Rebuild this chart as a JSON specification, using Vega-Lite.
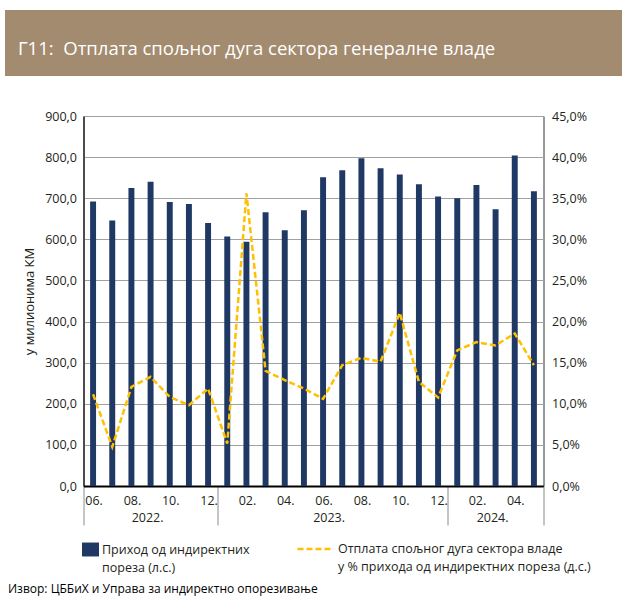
{
  "$schema": "https://vega.github.io/schema/vega-lite/v6.json",
  "padding": {"left": 5, "top": 10, "right": 5, "bottom": 0},
  "background": "white",
  "bounds": "flush",
  "center": true,
  "spacing": 40,
  "config": {
    "font": "Open Sans",
    "locale": {"number": {"decimal": ",", "thousands": ".", "grouping": [3], "currency": ["", ""]}},
    "axis": {"labelFont": "Open Sans", "labelFontSize": 12.5, "labelColor": "#231f20", "titleFont": "Open Sans", "titleFontWeight": "normal", "titleColor": "#231f20", "titleFontSize": 13},
    "legend": {"labelFont": "Open Sans", "labelFontSize": 12.5, "labelColor": "#231f20"},
    "title": {"font": "Open Sans", "fontWeight": "normal"}
  },
  "vconcat": [
    {
      "width": 617,
      "height": 66,
      "view": {"stroke": null},
      "data": {"values": [{"k": 1}]},
      "mark": {"type": "rect", "color": "#A38B6F"},
      "encoding": {},
      "title": {"text": "Г11:\u00a0 Отплата спољног дуга сектора генералне владе", "orient": "top", "anchor": "start", "frame": "group", "offset": -63, "dx": 13, "color": "white", "fontSize": 18.5, "baseline": "alphabetic", "zindex": 1}
    },
    {
      "width": 460,
      "height": 370,
      "view": {"stroke": "#333333", "strokeWidth": 1},
      "data": {"values": [
        {"m": "2022-06", "v": 692, "p": 0.1116},
        {"m": "2022-07", "v": 646, "p": 0.0475},
        {"m": "2022-08", "v": 725, "p": 0.1205},
        {"m": "2022-09", "v": 740, "p": 0.1327},
        {"m": "2022-10", "v": 691, "p": 0.1084},
        {"m": "2022-11", "v": 686, "p": 0.0982},
        {"m": "2022-12", "v": 640, "p": 0.1185},
        {"m": "2023-01", "v": 607, "p": 0.0516},
        {"m": "2023-02", "v": 594, "p": 0.356},
        {"m": "2023-03", "v": 666, "p": 0.140},
        {"m": "2023-04", "v": 622, "p": 0.1287},
        {"m": "2023-05", "v": 671, "p": 0.1185},
        {"m": "2023-06", "v": 751, "p": 0.106},
        {"m": "2023-07", "v": 768, "p": 0.147},
        {"m": "2023-08", "v": 797, "p": 0.156},
        {"m": "2023-09", "v": 773, "p": 0.151},
        {"m": "2023-10", "v": 758, "p": 0.2106},
        {"m": "2023-11", "v": 734, "p": 0.1266},
        {"m": "2023-12", "v": 704, "p": 0.1076},
        {"m": "2024-01", "v": 700, "p": 0.165},
        {"m": "2024-02", "v": 732, "p": 0.175},
        {"m": "2024-03", "v": 673, "p": 0.171},
        {"m": "2024-04", "v": 804, "p": 0.1855},
        {"m": "2024-05", "v": 717, "p": 0.147}
      ]},
      "layer": [
        {
          "mark": {"type": "bar", "width": {"band": 0.31}},
          "encoding": {
            "x": {
              "field": "m", "type": "ordinal", "sort": null,
              "scale": {"type": "band", "paddingInner": 0, "paddingOuter": 0},
              "axis": {
                "orient": "bottom", "title": null, "grid": false,
                "bandPosition": 0, "labelOffset": 1, "labelAngle": 0,
                "labelExpr": "toNumber(substring(datum.value,5,7)) % 2 == 0 ? substring(datum.value,5,7) + '.' : ''",
                "labelOverlap": false, "labelFlush": false,
                "tickSize": 39, "tickWidth": 1,
                "tickColor": {"condition": {"test": "indexof(['2022-06','2023-01','2024-01'], datum.value) >= 0", "value": "#8c8c8c"}, "value": "transparent"},
                "labelPadding": -31,
                "domainColor": "#000000", "domainWidth": 2
              }
            },
            "y": {
              "field": "v", "type": "quantitative",
              "scale": {"domain": [0, 900]},
              "axis": {
                "title": "у милионима КМ", "titlePadding": 8,
                "values": [0, 100, 200, 300, 400, 500, 600, 700, 800, 900],
                "format": ".1f", "grid": true, "gridColor": "#a0a0a0", "gridWidth": 1,
                "ticks": false, "labelPadding": 7,
                "domainColor": "#000000", "domainWidth": 1
              }
            },
            "fill": {
              "datum": "Приход од индиректних|пореза (л.с.)",
              "scale": {"range": ["#1f3864"]},
              "legend": {
                "orient": "none", "legendX": 77, "legendY": 531, "title": null,
                "symbolType": "M-1,-0.82H1V0.82H-1Z", "symbolSize": 289, "symbolStrokeWidth": 0,
                "labelExpr": "split(datum.label, '|')", "labelLimit": 0, "labelOffset": 3,
                "labelBaseline": "alphabetic",
                "encode": {"labels": {"update": {"dy": {"value": 4}, "lineHeight": {"value": 18}}}}
              }
            }
          }
        },
        {
          "mark": {"type": "line", "strokeDash": [6, 3], "strokeWidth": 2.5},
          "encoding": {
            "x": {
              "field": "m", "type": "ordinal", "sort": null,
              "axis": {
                "orient": "bottom", "title": null, "grid": false, "domain": false,
                "values": ["2022-09", "2023-06", "2024-03", "2024-05"],
                "bandPosition": 1,
                "labelOffset": {"condition": {"test": "datum.value == '2023-06'", "value": 6}, "value": -3},
                "labelExpr": "datum.value == '2024-05' ? '' : substring(datum.value,0,4) + '.'",
                "labelAngle": 0, "labelOverlap": false, "labelFlush": false,
                "tickSize": 39, "tickWidth": 1,
                "tickColor": {"condition": {"test": "datum.value == '2024-05'", "value": "#8c8c8c"}, "value": "transparent"},
                "labelPadding": -14
              }
            },
            "y": {
              "field": "p", "type": "quantitative",
              "scale": {"domain": [0, 0.45]},
              "axis": {
                "orient": "right", "title": null,
                "values": [0, 0.05, 0.1, 0.15, 0.2, 0.25, 0.3, 0.35, 0.4, 0.45],
                "format": ".1%", "grid": false, "domain": false, "ticks": false, "labelPadding": 8
              }
            },
            "stroke": {
              "datum": "Отплата спољног дуга сектора владе|у % прихода од индиректних пореза (д.с.)",
              "scale": {"range": ["#FFC000"]},
              "legend": {
                "orient": "none", "legendX": 291, "legendY": 520, "title": null,
                "symbolType": "stroke", "symbolSize": 1225, "symbolStrokeWidth": 2.5, "symbolDash": [6, 3],
                "labelExpr": "split(datum.label, '|')", "labelLimit": 0, "labelOffset": 4,
                "labelBaseline": "alphabetic",
                "encode": {"labels": {"update": {"dy": {"value": 4}, "lineHeight": {"value": 18}}}}
              }
            }
          }
        }
      ],
      "resolve": {"scale": {"y": "independent"}, "axis": {"x": "independent"}}
    },
    {
      "width": 617,
      "height": 70,
      "view": {"stroke": null},
      "data": {"values": [{"k": 1}]},
      "mark": {"type": "text", "text": ""},
      "encoding": {},
      "title": {"text": "Извор: ЦББиХ и Управа за индиректно опорезивање", "orient": "top", "anchor": "start", "frame": "group", "offset": -79, "dx": 3, "color": "#000000", "fontSize": 12, "baseline": "alphabetic"}
    }
  ]
}
